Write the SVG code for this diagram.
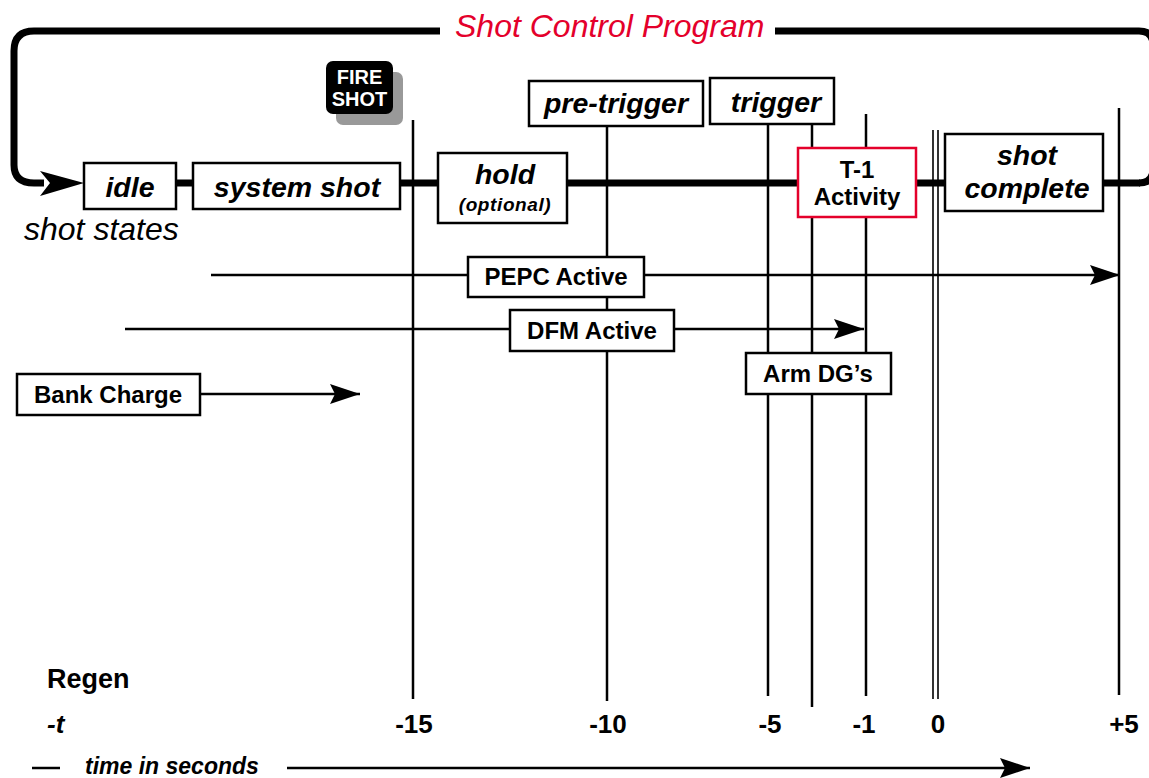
<svg xmlns="http://www.w3.org/2000/svg" width="1149" height="778" viewBox="0 0 1149 778">
  <style>
    .bg { fill: #ffffff; }
    .box { fill: #ffffff; stroke: #000000; stroke-width: 2.5; }
    .red { fill: #ffffff; stroke: #e4002b; stroke-width: 2.5; }
    .thin { stroke: #000000; stroke-width: 2.5; fill: none; }
    .hair { stroke: #000000; stroke-width: 1.6; fill: none; }
    .thick { stroke: #000000; stroke-width: 7; fill: none; stroke-linejoin: round; }
    .lbl { font-family: "Liberation Sans", Arial, sans-serif; font-weight: bold; fill: #000000; }
    .st { font-size: 28.5px; font-style: italic; }
    .ac { font-size: 24px; }
    .ax { font-size: 26px; }
  </style>
  <defs>
    <marker id="ah" markerWidth="30" markerHeight="20" refX="30" refY="10" orient="auto" markerUnits="userSpaceOnUse">
      <path d="M0,0 L30,10 L0,20 L5,10 Z" fill="#000000"/>
    </marker>
  </defs>
  <rect class="bg" x="0" y="0" width="1149" height="778"/>

  <!-- time markers -->
  <g id="time-lines">
    <line class="thin" x1="413" y1="120" x2="413" y2="699"/>
    <line class="thin" x1="607" y1="127" x2="607" y2="701"/>
    <line class="thin" x1="768" y1="123" x2="768" y2="696"/>
    <line class="thin" x1="812" y1="123" x2="812" y2="707"/>
    <line class="thin" x1="866" y1="114" x2="866" y2="696"/>
    <line class="hair" x1="933" y1="130" x2="933" y2="699"/>
    <line class="hair" x1="938" y1="130" x2="938" y2="699"/>
    <line class="thin" x1="1119" y1="108" x2="1119" y2="695"/>
  </g>

  <!-- connectors -->
  <g id="connectors">
    <!-- shot control loop -->
    <path class="thick" d="M440,31 L34,31 Q14,31 14,51 L14,165 Q14,183 34,183 L44,183"/>
    <path d="M40,171 L84,183 L40,196 L50,183 Z" fill="#000000"/>
    <line class="thick" x1="84" y1="183" x2="1140" y2="183"/>
    <path class="thick" d="M775,31 L1139,31 Q1153,31 1153,45 L1153,169 Q1153,183 1139,183"/>
    <!-- activity arrows -->
    <line class="thin" x1="211" y1="275" x2="1120" y2="275" marker-end="url(#ah)"/>
    <line class="thin" x1="125" y1="329" x2="864" y2="329" marker-end="url(#ah)"/>
    <line class="thin" x1="200" y1="394" x2="360" y2="394" marker-end="url(#ah)"/>
    <!-- time axis arrow -->
    <line class="thin" x1="32" y1="768" x2="60" y2="768"/>
    <line class="thin" x1="287" y1="768" x2="1030" y2="768" marker-end="url(#ah)"/>
  </g>

  <text class="lbl" x="455" y="37" font-size="32" font-style="italic" style="font-weight:normal;fill:#e4002b">Shot Control Program</text>

  <g id="fire-shot">
    <rect x="336" y="72" width="67" height="53" rx="7" fill="#999999"/>
    <rect x="326" y="61" width="67" height="53" rx="7" fill="#000000"/>
    <text class="lbl" x="359.5" y="84" font-size="20" text-anchor="middle" style="fill:#ffffff">FIRE</text>
    <text class="lbl" x="359.5" y="106" font-size="20" text-anchor="middle" style="fill:#ffffff">SHOT</text>
  </g>

  <g id="idle">
    <rect class="box" x="84" y="163" width="92" height="46"/>
    <text class="lbl st" x="130" y="197" text-anchor="middle">idle</text>
  </g>
  <g id="system-shot">
    <rect class="box" x="193" y="163" width="207" height="46"/>
    <text class="lbl st" x="297" y="197" text-anchor="middle">system shot</text>
  </g>
  <g id="hold">
    <rect class="box" x="438" y="153" width="129" height="70"/>
    <text class="lbl st" x="505" y="184" text-anchor="middle">hold</text>
    <text class="lbl" x="505" y="211" font-size="19" font-style="italic" letter-spacing="0.6" text-anchor="middle">(optional)</text>
  </g>
  <g id="pre-trigger">
    <rect class="box" x="529" y="81" width="174" height="45"/>
    <text class="lbl st" x="616" y="113" text-anchor="middle">pre-trigger</text>
  </g>
  <g id="trigger">
    <rect class="box" x="710" y="78" width="124" height="46"/>
    <text class="lbl st" x="776" y="112" text-anchor="middle">trigger</text>
  </g>
  <g id="t-1-activity">
    <rect class="red" x="798" y="148" width="118" height="69"/>
    <text class="lbl ac" x="857" y="178" text-anchor="middle">T-1</text>
    <text class="lbl ac" x="857" y="205" text-anchor="middle">Activity</text>
  </g>
  <g id="shot-complete">
    <rect class="box" x="945" y="134" width="158" height="77"/>
    <text class="lbl st" x="1027" y="165" text-anchor="middle">shot</text>
    <text class="lbl st" x="1027" y="198" text-anchor="middle">complete</text>
  </g>

  <text class="lbl" x="24" y="240" font-size="32" font-style="italic" style="font-weight:normal">shot states</text>

  <g id="pepc-active">
    <rect class="box" x="468" y="257" width="176" height="40"/>
    <text class="lbl ac" x="556" y="285" text-anchor="middle">PEPC Active</text>
  </g>
  <g id="dfm-active">
    <rect class="box" x="510" y="310" width="164" height="41"/>
    <text class="lbl ac" x="592" y="339" text-anchor="middle">DFM Active</text>
  </g>
  <g id="arm-dgs">
    <rect class="box" x="746" y="353" width="145" height="41"/>
    <text class="lbl ac" x="818" y="382" text-anchor="middle">Arm DG’s</text>
  </g>
  <g id="bank-charge">
    <rect class="box" x="17" y="374" width="183" height="41"/>
    <text class="lbl ac" x="108" y="403" text-anchor="middle">Bank Charge</text>
  </g>

  <g id="axis-labels">
    <text class="lbl" x="47" y="688" font-size="27">Regen</text>
    <text class="lbl ax" x="47" y="733" font-style="italic">-t</text>
    <text class="lbl ax" x="414" y="733" text-anchor="middle">-15</text>
    <text class="lbl ax" x="608" y="733" text-anchor="middle">-10</text>
    <text class="lbl ax" x="770" y="733" text-anchor="middle">-5</text>
    <text class="lbl ax" x="864" y="733" text-anchor="middle">-1</text>
    <text class="lbl ax" x="938" y="733" text-anchor="middle">0</text>
    <text class="lbl ax" x="1124" y="733" text-anchor="middle">+5</text>
    <text class="lbl" x="85" y="774" font-size="23" font-style="italic">time in seconds</text>
  </g>
</svg>
